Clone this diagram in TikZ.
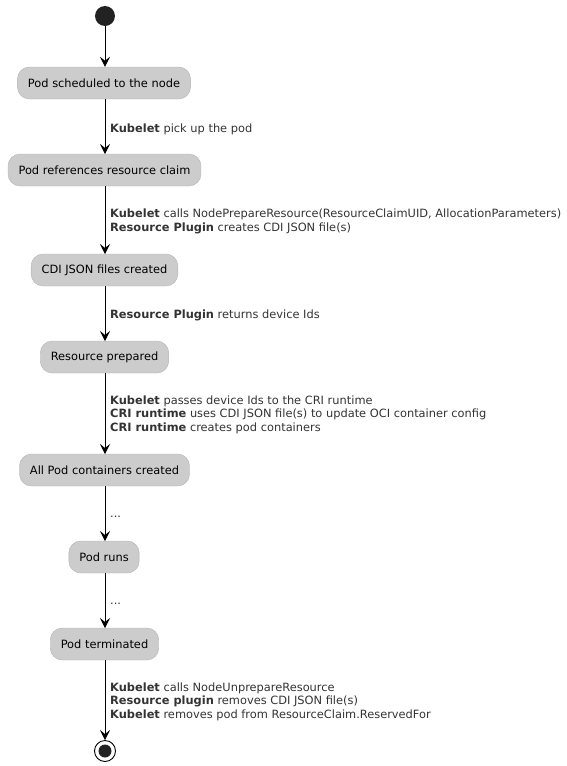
\documentclass[tikz,border=0pt]{standalone}
\usepackage{fontspec}
\setmainfont{DejaVu Sans}
\usetikzlibrary{arrows.meta}
\definecolor{nodefill}{HTML}{CCCCCC}
\definecolor{nodeline}{HTML}{B4B4B4}
\definecolor{labtext}{HTML}{333333}
\definecolor{dot}{HTML}{222222}
\begin{document}
\begin{tikzpicture}[x=1pt,y=-1pt,
  act/.style={draw=nodeline,fill=nodefill,rounded corners=12pt,minimum height=32pt,inner xsep=10.5pt,font=\fontsize{11.4}{13}\selectfont,text=black},
  lab/.style={anchor=base west,align=left,inner sep=0pt,text=labtext,font=\fontsize{11.4}{13.5}\selectfont},
  flow/.style={draw=black,line width=0.9pt,-{Stealth[length=10pt,width=10pt,inset=4pt]}}]
\useasboundingbox (0,0) rectangle (567,766);
\node[circle,fill=dot,minimum size=20pt,inner sep=0pt] (start) at (105,16) {};
\node[act] (n1) at (104,83) {Pod scheduled to the node};
\node[act] (n2) at (104.5,170) {Pod references resource claim};
\node[act] (n3) at (104.5,270) {CDI JSON files created};
\node[act] (n4) at (104.5,357) {Resource prepared};
\node[act] (n5) at (104.5,470) {All Pod containers created};
\node[act] (n6) at (104,557) {Pod runs};
\node[act] (n7) at (104.5,644) {Pod terminated};
\node[circle,draw=black,line width=0.9pt,minimum size=21pt,inner sep=0pt] (end) at (105,751) {};
\node[circle,fill=dot,minimum size=13pt,inner sep=0pt] (endin) at (105,751) {};
\draw[flow] (start) -- (start|-n1.north);
\draw[flow] (105,99) -- (105,154);
\draw[flow] (105,186) -- (105,254);
\draw[flow] (105,286) -- (105,341);
\draw[flow] (105,373) -- (105,454);
\draw[flow] (105,486) -- (105,541);
\draw[flow] (105,573) -- (105,628);
\draw[flow] (105,660) -- (end);
\node[lab] (l1) at (110,132) {\textbf{Kubelet} pick up the pod};
\node[lab] (l2) at (110,231) {\textbf{Kubelet} calls NodePrepareResource(ResourceClaimUID, AllocationParameters)\\\textbf{Resource Plugin} creates CDI JSON file(s)};
\node[lab] (l3) at (110,318) {\textbf{Resource Plugin} returns device Ids};
\node[lab] (l4) at (110,431) {\textbf{Kubelet} passes device Ids to the CRI runtime\\\textbf{CRI runtime} uses CDI JSON file(s) to update OCI container config\\\textbf{CRI runtime} creates pod containers};
\node[lab] (l5) at (110,517) {...};
\node[lab] (l6) at (110,604) {...};
\node[lab] (l7) at (110,718) {\textbf{Kubelet} calls NodeUnprepareResource\\\textbf{Resource plugin} removes CDI JSON file(s)\\\textbf{Kubelet} removes pod from ResourceClaim.ReservedFor};
\end{tikzpicture}
\end{document}
